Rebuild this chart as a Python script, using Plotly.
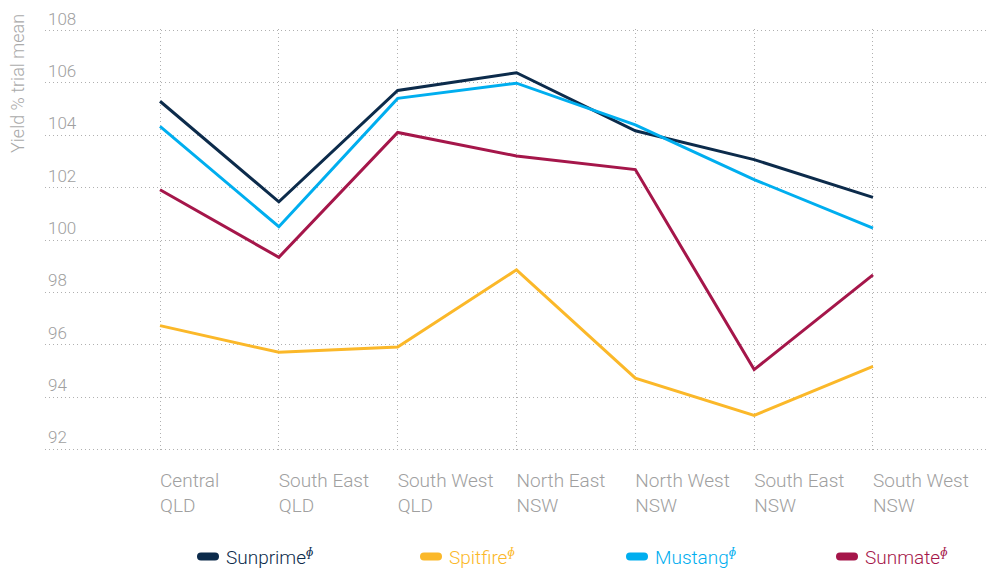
import plotly.graph_objects as go

categories = ["Central QLD", "South East QLD", "South West QLD", "North East NSW",
              "North West NSW", "South East NSW", "South West NSW"]
tick_labels = ["Central<br>QLD", "South East<br>QLD", "South West<br>QLD", "North East<br>NSW",
               "North West<br>NSW", "South East<br>NSW", "South West<br>NSW"]
y_ticks = [92, 94, 96, 98, 100, 102, 104, 106, 108]

series_names = ["Sunprime", "Spitfire", "Mustang", "Sunmate"]
sunprime = [105.30, 101.46, 105.71, 106.39, 104.17, 103.07, 101.63]
spitfire = [96.73, 95.71, 95.91, 98.86, 94.72, 93.30, 95.17]
mustang = [104.34, 100.51, 105.41, 105.99, 104.40, 102.31, 100.45]
sunmate = [101.92, 99.34, 104.11, 103.21, 102.69, 95.05, 98.67]
series_values = [sunprime, spitfire, mustang, sunmate]
colors = ["#0c2b4b", "#fbb829", "#00aeef", "#a5164a"]

FONT = "Roboto"
GRAY = "#a0a0a0"
GRID = "#b0b0b0"

fig = go.Figure()
for name, vals, col in zip(series_names, series_values, colors):
    fig.add_trace(go.Scatter(x=categories, y=vals, mode="lines", name=name,
                             line=dict(color=col, width=3), showlegend=False,
                             hoverinfo="x+y+name"))

# custom legend (pill + coloured label)
W, L, T, B = 943.0, 45.0, 422.0, 451.0
legend_px = [197, 420, 626, 836]
leg_y = (B - 556.5) / T
pill = "M 4,-4 L 18,-4 Q 22,-4 22,0 Q 22,4 18,4 L 4,4 Q 0,4 0,0 Q 0,-4 4,-4 Z"
for name, col, px in zip(series_names, colors, legend_px):
    fig.add_shape(type="path", xref="paper", yref="paper", xsizemode="pixel", ysizemode="pixel",
                  xanchor=(px - L) / W, yanchor=leg_y, path=pill,
                  fillcolor=col, line=dict(width=0))
    fig.add_annotation(xref="paper", yref="paper", x=(px + 29 - L) / W, y=leg_y,
                       xanchor="left", yanchor="middle", showarrow=False, xshift=-2,
                       text=f"{name}<sup><i>ɸ</i></sup>",
                       font=dict(family=FONT, size=19, color=col, weight=300))

fig.add_annotation(xref="paper", yref="paper", x=0, y=(B - 84) / T, xshift=-27,
                   xanchor="center", yanchor="middle", textangle=-90, showarrow=False,
                   text="Yield % trial mean",
                   font=dict(family=FONT, size=18, color="#aaaaaa", weight=300))

fig.update_layout(
    width=988, height=569,
    margin=dict(l=45, r=0, t=29, b=118, autoexpand=False),
    paper_bgcolor="white", plot_bgcolor="white",
    xaxis=dict(range=[-0.968, 6.968], tickmode="array", tickvals=categories, ticktext=tick_labels,
               showgrid=True, gridcolor=GRID, griddash="1px,3px", gridwidth=1,
               showline=False, zeroline=False, ticks="", automargin=False,
               ticklabelposition="outside right", ticklabeloverflow="allow",
               ticklabelstandoff=16,
               tickfont=dict(family=FONT, size=19, color=GRAY, weight=300)),
    yaxis=dict(range=[91.94, 108.06], tickmode="array", tickvals=y_ticks,
               showgrid=True, gridcolor=GRID, griddash="1px,3px", gridwidth=1,
               showline=False, zeroline=False, ticks="", automargin=False,
               ticklabelposition="inside top", ticklabeloverflow="allow",
               tickfont=dict(family=FONT, size=17, color=GRAY, weight=300)),
)

fig.write_html("out.html", config={"displayModeBar": False},
               post_script="document.body.style.margin='0px';")
